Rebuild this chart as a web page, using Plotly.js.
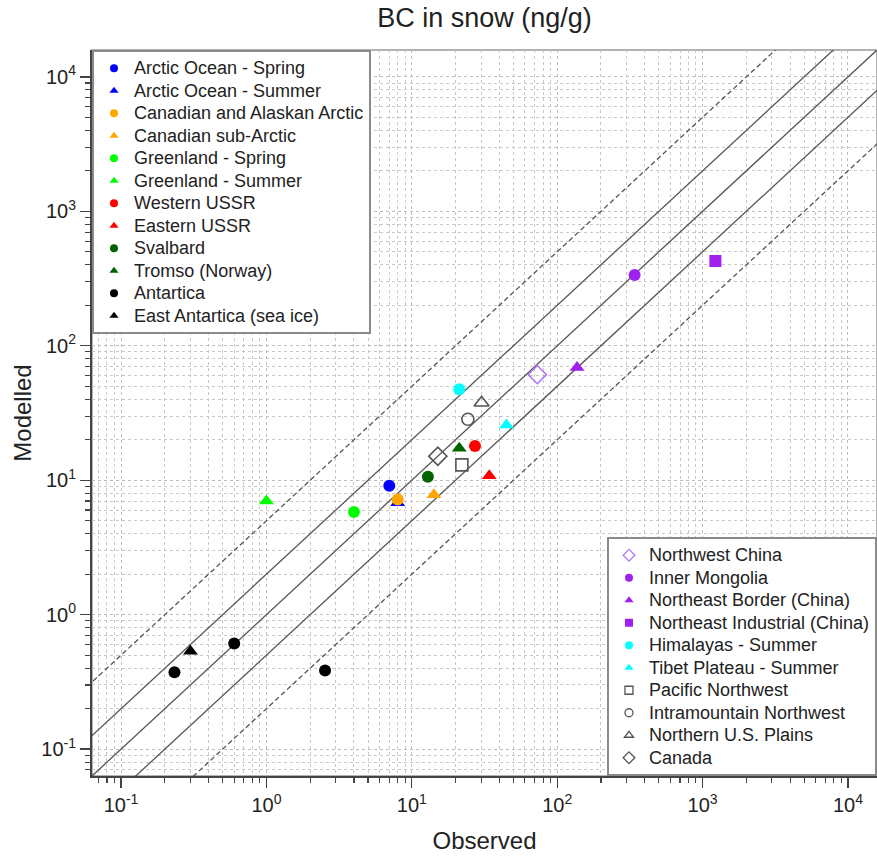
<!DOCTYPE html>
<html>
<head>
<meta charset="utf-8">
<script src="https://cdn.plot.ly/plotly-3.0.1.min.js"></script>
<style>
html, body { margin: 0; padding: 0; background: #ffffff; }
#chart { width: 877px; height: 856px; }
</style>
</head>
<body>
<div id="chart"></div>
<script>
// ---------- data ----------
const groupNames = [
  'Arctic Ocean - Spring', 'Arctic Ocean - Summer', 'Canadian and Alaskan Arctic',
  'Canadian sub-Arctic', 'Greenland - Spring', 'Greenland - Summer',
  'Western USSR', 'Eastern USSR', 'Svalbard', 'Tromso (Norway)',
  'Antartica', 'East Antartica (sea ice)',
  'Northwest China', 'Inner Mongolia', 'Northeast Border (China)',
  'Northeast Industrial (China)', 'Himalayas - Summer', 'Tibet Plateau - Summer',
  'Pacific Northwest', 'Intramountain Northwest', 'Northern U.S. Plains', 'Canada'
];
const observed = [
  [7.0], [8.0], [8.0], [14.2], [4.0], [1.0], [27.2], [34.1], [12.9], [21.2],
  [0.233, 0.60, 2.53], [0.30],
  [73], [341], [137], [1225], [21.2], [44.8], [22.1], [24.3], [30.2], [15.1]
];
const modelled = [
  [9.1], [6.8], [7.2], [7.8], [5.8], [7.0], [18.0], [10.8], [10.6], [17.3],
  [0.373, 0.61, 0.384], [0.534],
  [61], [336], [69], [427], [47.4], [25.7], [13.0], [28.4], [37.7], [15.1]
];
const ratioFactors = [5, 2, 1, 0.5, 0.2];
const ratioDashed = [true, false, false, false, true];
const tickValues = [0.1, 1, 10, 100, 1000, 10000];
const tickLabels = ['10<sup>-1</sup>', '10<sup>0</sup>', '10<sup>1</sup>', '10<sup>2</sup>', '10<sup>3</sup>', '10<sup>4</sup>'];

// ---------- styles ----------
const colors = [
  '#0000ff', '#0000ff', '#ffa500', '#ffa500', '#00ff00', '#00ff00',
  '#ff0000', '#ff0000', '#006400', '#006400', '#000000', '#000000',
  '#b277f7', '#a020f0', '#a020f0', '#a020f0', '#00ffff', '#00ffff',
  '#555555', '#555555', '#555555', '#555555'
];
const symbols = [
  'circle', 'triangle-up', 'circle', 'triangle-up', 'circle', 'triangle-up',
  'circle', 'triangle-up', 'circle', 'triangle-up', 'circle', 'triangle-up',
  'diamond-open', 'circle', 'triangle-up', 'square', 'circle', 'triangle-up',
  'square-open', 'circle-open', 'triangle-up-open', 'diamond-open'
];
const plotSizes = symbols.map(s => s.indexOf('diamond') === 0 ? 14 : (s.indexOf('triangle') === 0 ? 13 : 12));
const legendSizes = symbols.map(s => s.indexOf('diamond') === 0 ? 9 : 8);

const FONT = 'Liberation Sans, Arial, Helvetica, sans-serif';
const AXC = '#444444';

const traces = [];
// reference ratio lines
const lineX = [0.01, 100000];
ratioFactors.forEach((f, i) => {
  traces.push({
    type: 'scatter', mode: 'lines',
    x: lineX, y: lineX.map(v => v * f),
    line: { color: '#555555', width: 1.3, dash: ratioDashed[i] ? '5px,3px' : 'solid' },
    showlegend: false, hoverinfo: 'skip'
  });
});
// data points
groupNames.forEach((name, i) => {
  traces.push({
    type: 'scatter', mode: 'markers',
    x: observed[i], y: modelled[i], name: name,
    marker: { symbol: symbols[i], color: colors[i], size: plotSizes[i],
              line: { color: colors[i], width: symbols[i].indexOf('open') > 0 ? 1.6 : 0 } },
    showlegend: false
  });
});
// legend entries (smaller symbols, like the reference key)
groupNames.forEach((name, i) => {
  traces.push({
    type: 'scatter', mode: 'markers',
    x: [null], y: [null],
    name: '<span style="font-size:18px">' + name + '</span>',
    legend: i < 12 ? 'legend' : 'legend2',
    marker: { symbol: symbols[i], color: colors[i], size: legendSizes[i],
              line: { color: colors[i], width: symbols[i].indexOf('open') > 0 ? 1.3 : 0 } },
    showlegend: true, hoverinfo: 'skip'
  });
});

const minorVals = [];
for (let e = -2; e <= 4; e++) {
  for (let d = 2; d <= 9; d++) minorVals.push(d * Math.pow(10, e));
}

function axisCfg(extra) {
  return Object.assign({
    type: 'log',
    range: [-1.2, 4.2],
    tickmode: 'array', tickvals: tickValues, ticktext: tickLabels,
    ticks: 'outside', ticklen: 10, tickwidth: 1.3, tickcolor: AXC,
    tickfont: { family: FONT, size: 20, color: '#222' },
    showline: true, linecolor: AXC, linewidth: 2,
    showgrid: true, gridcolor: '#bdbdbd', griddash: 'dot', gridwidth: 1,
    zeroline: false,
    minor: { tickmode: 'array', tickvals: minorVals, ticks: 'outside', ticklen: 5,
             tickwidth: 1.1, tickcolor: AXC, showgrid: true,
             gridcolor: '#c8c8c8', griddash: 'dot', gridwidth: 1 },
    automargin: false
  }, extra || {});
}

const layout = {
  width: 877, height: 856,
  margin: { l: 92, r: 0, t: 50, b: 80 },
  paper_bgcolor: '#ffffff', plot_bgcolor: '#ffffff',
  font: { family: FONT, color: '#222' },
  title: { text: 'BC in snow (ng/g)', font: { family: FONT, size: 27, color: '#222' },
           x: 0.5, xref: 'paper', xanchor: 'center', y: 0.979, yref: 'container', yanchor: 'middle' },
  xaxis: axisCfg({ title: { text: 'Observed', standoff: 17, font: { family: FONT, size: 24, color: '#222' } } }),
  yaxis: axisCfg({ title: { text: 'Modelled', standoff: 3, font: { family: FONT, size: 24, color: '#222' } } }),
  showlegend: true,
  legend: {
    x: 0, xanchor: 'left', y: 1, yanchor: 'top', xref: 'paper', yref: 'paper',
    bgcolor: '#ffffff', bordercolor: '#8a8a8a', borderwidth: 2,
    font: { family: FONT, size: 15, color: '#222' }, tracegroupgap: 0
  },
  legend2: {
    x: 1, xanchor: 'right', y: 0, yanchor: 'bottom', xref: 'paper', yref: 'paper',
    bgcolor: '#ffffff', bordercolor: '#8a8a8a', borderwidth: 2,
    font: { family: FONT, size: 15, color: '#222' }, tracegroupgap: 0
  },
  shapes: [{
    type: 'rect', xref: 'paper', yref: 'paper', x0: 0, x1: 1, y0: 0, y1: 1,
    line: { color: '#999999', width: 1.5 }, layer: 'below'
  }],
  hovermode: false
};

Plotly.newPlot('chart', traces, layout, { staticPlot: true, displayModeBar: false });
</script>
</body>
</html>
